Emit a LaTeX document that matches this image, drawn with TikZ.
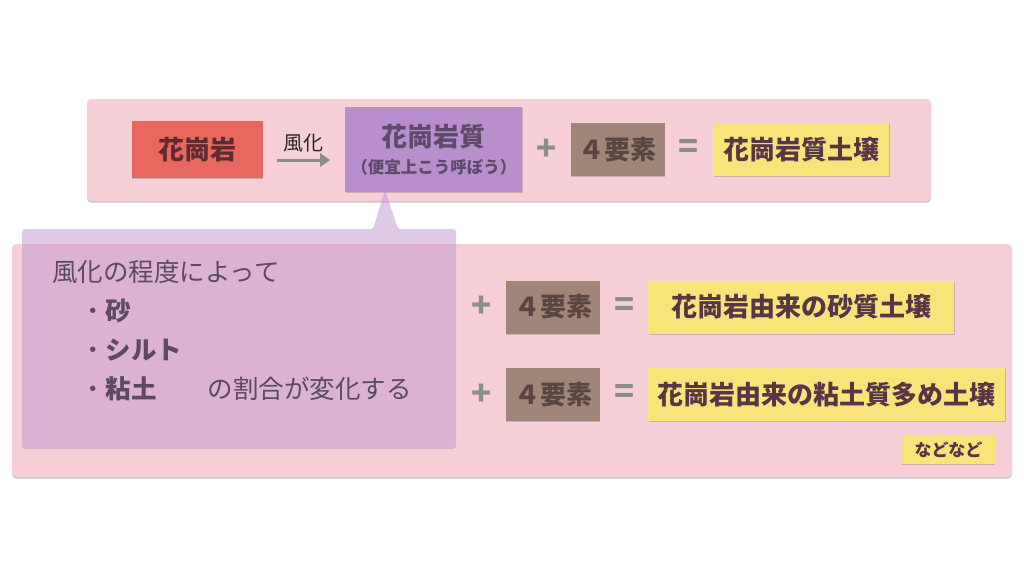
\documentclass[tikz,border=0pt]{standalone}
\usepackage{fontspec}
\setmainfont{Noto Sans CJK JP}
\usetikzlibrary{positioning,arrows.meta,shadows,calc}

\definecolor{panelpink}{HTML}{F6D0D6}
\definecolor{rockred}{HTML}{E8675F}
\definecolor{rocktext}{HTML}{5E2C2E}
\definecolor{grusviolet}{HTML}{B98ECC}
\definecolor{grustext}{HTML}{5F4A6B}
\definecolor{elembrown}{HTML}{A28579}
\definecolor{elemtext}{HTML}{5A4540}
\definecolor{soilyellow}{HTML}{F9E37A}
\definecolor{soiltext}{HTML}{573646}
\definecolor{signgray}{HTML}{8C8C8C}
\definecolor{notefill}{HTML}{C195D1}
\definecolor{notetext}{HTML}{5C4A60}

\begin{document}
\begin{tikzpicture}[
    x=1pt, y=-1pt,
    panel/.style={fill=panelpink, rounded corners=4pt, drop shadow={shadow xshift=0pt, shadow yshift=-1.5pt, opacity=0.4, fill=black!55}},
    box/.style={rectangle, inner sep=0pt, align=center, font=\fontsize{26}{30}\selectfont\bfseries, drop shadow={shadow xshift=0.3pt, shadow yshift=-1.2pt, opacity=0.3, fill=black!60}},
    rock/.style={box, fill=rockred, text=rocktext, minimum width=131pt, minimum height=57pt},
    weathered/.style={box, fill=grusviolet, text=grustext, minimum width=177pt, minimum height=85pt},
    elem/.style={box, fill=elembrown, text=elemtext, minimum width=94pt, minimum height=53pt},
    soil/.style={box, fill=soilyellow, text=soiltext, minimum height=53pt},
    sign/.style={inner sep=0pt, text=signgray, font=\fontsize{33}{33}\selectfont\bfseries},
    flow/.style={draw=signgray, line width=3pt, -{Triangle[length=10pt, width=13pt]}},
    note/.style={inner sep=0pt, align=left, text=notetext, font=\fontsize{25.5}{39}\selectfont},
  ]
    \useasboundingbox (0,0) rectangle (1024,576);

    % panels
    \path[panel] (87,99) rectangle (931,201);
    \path[panel] (12,244) rectangle (1012,477);

    % callout
    \fill[notefill, fill opacity=0.5, rounded corners=3pt] (22,229) -- (373,229) -- (385,190) -- (398,229) -- (456,229) -- (456,449) -- (22,449) -- cycle;
    \node[note, anchor=north west] (reason) at (52,260) {風化の程度によって\\\hspace*{28pt}・\textbf{砂}\\\hspace*{28pt}・\textbf{シルト}\\\hspace*{28pt}・\textbf{粘土}\hspace*{2em}の割合が変化する};

    % top row
    \node[rock] (granite) at (197.5,149.5) {花崗岩};
    \node[weathered, font=\fontsize{26}{27}\selectfont\bfseries, right=82pt of granite] (granitic) {花崗岩質\\{\fontsize{16.5}{18}\selectfont（便宜上こう呼ぼう）}};
    \node[elem, right=48pt of granitic] (elemTop) {４要素};
    \node[soil, minimum width=176pt, right=48pt of elemTop] (soilTop) {花崗岩質土壌};
    \node[sign] (plusTop) at ($(granitic.east)!0.5!(elemTop.west)$) {+};
    \node[sign] (eqTop) at ($(elemTop.east)!0.5!(soilTop.west)$) {=};

    \draw[flow] ([xshift=14pt, yshift=-10.5pt]granite.east) -- node[midway, above=6pt, inner sep=0pt, text=black!85, font=\fontsize{20}{24}\selectfont] (weather) {風化} ([xshift=-15pt, yshift=-10.5pt]granitic.west);

    % bottom rows
    \node[elem] (elemSand) at (553,307) {４要素};
    \node[soil, minimum width=306pt, right=48pt of elemSand] (soilSand) {花崗岩由来の砂質土壌};
    \node[sign] (plusSand) at ([xshift=-24pt]elemSand.west) {+};
    \node[sign] (eqSand) at ($(elemSand.east)!0.5!(soilSand.west)$) {=};

    \node[elem, below=34pt of elemSand] (elemClay) {４要素};
    \node[soil, minimum width=357pt, right=48pt of elemClay] (soilClay) {花崗岩由来の粘土質多め土壌};
    \node[sign] (plusClay) at ([xshift=-24pt]elemClay.west) {+};
    \node[sign] (eqClay) at ($(elemClay.east)!0.5!(soilClay.west)$) {=};

    \node[box, fill=soilyellow, text=soiltext, minimum width=93pt, minimum height=29pt, font=\fontsize{17}{20}\selectfont\bfseries] (etc) at (948.5,449.5) {などなど};
  \end{tikzpicture}
\end{document}
